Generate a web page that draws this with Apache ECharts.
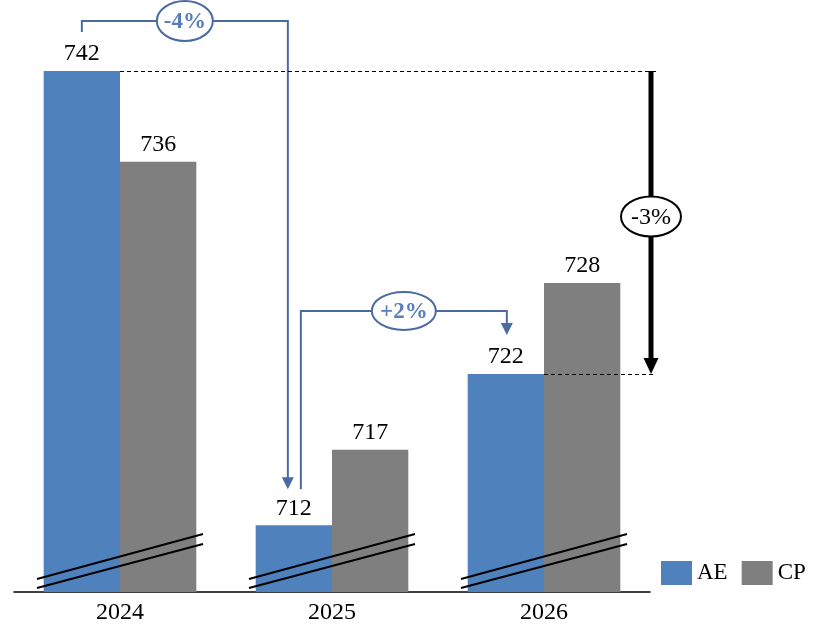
<!DOCTYPE html>
<html><head><meta charset="utf-8">
<script src="https://cdn.jsdelivr.net/npm/echarts@6/dist/echarts.min.js"></script>
<style>html,body{margin:0;padding:0;background:#fff}#c{width:834px;height:641px}</style>
</head><body><div id="c"></div>
<script>
const categories = ['2024', '2025', '2026'];
const aeValues = [742, 712, 722];
const cpValues = [736, 717, 728];
const changeLabels = ['-4%', '+2%', '-3%'];
const yMin = 707.6, yMax = 742;

const FONT = 'Liberation Serif';
const BLUE = '#4f81bd', GRAY = '#7f7f7f', LINE = '#4a6aa2', LBL = '#5b7dbb';

const chart = echarts.init(document.getElementById('c'));
const barLabel = {show: true, position: 'top', distance: 5, fontFamily: FONT, fontSize: 24, color: '#000'};
chart.setOption({
  animation: false,
  grid: {left: 14, width: 636, top: 71, bottom: 49},
  legend: {data: ['AE', 'CP'], left: 656, top: 556, itemWidth: 31, itemHeight: 24, itemGap: 14, icon: 'rect',
    textStyle: {fontFamily: FONT, fontSize: 23, color: '#000'}},
  xAxis: {type: 'category', data: categories,
    axisLine: {lineStyle: {color: '#000', width: 1.5}}, axisTick: {show: false},
    axisLabel: {fontFamily: FONT, fontSize: 24, color: '#000', margin: 9}},
  yAxis: {type: 'value', min: yMin, max: yMax, show: false, splitLine: {show: false}},
  series: [
    {name: 'AE', type: 'bar', data: aeValues, barWidth: '36%', barGap: '0%', itemStyle: {color: BLUE}, label: barLabel},
    {name: 'CP', type: 'bar', data: cpValues, barWidth: '36%', barGap: '0%', itemStyle: {color: GRAY}, label: barLabel}
  ]
});

const p = (i, v) => chart.convertToPixel({seriesIndex: 0}, [i, v]);
const band = p(1, yMin)[0] - p(0, yMin)[0];
const bw = band * 0.36;
const aeX = i => p(i, yMin)[0] - bw / 2;
const base = p(0, yMin)[1];
const yTop = v => p(0, v)[1];
const gridRight = p(2, yMin)[0] + band / 2;

const g = [];
const Z = 100;
function poly(points, stroke, w, dash) {
  g.push({type: 'polyline', z: Z, shape: {points}, style: {stroke, lineWidth: w, fill: null, lineDash: dash || null}});
}
function tri(x, yTip, w, h, fill) {
  g.push({type: 'polygon', z: Z, shape: {points: [[x - w / 2, yTip - h], [x + w / 2, yTip - h], [x, yTip]]}, style: {fill}});
}
function bubble(cx, cy, rx, ry, stroke, text, color, weight, size) {
  g.push({type: 'ellipse', z: Z + 1, shape: {cx, cy, rx, ry}, style: {fill: '#fff', stroke, lineWidth: 2}});
  g.push({type: 'text', z: Z + 2, style: {x: cx, y: cy + 1, text, align: 'center', verticalAlign: 'middle',
    fill: color, font: weight + ' ' + size + 'px "' + FONT + '"'}});
}

// bracket 1: AE 2024 -> AE 2025
const x1 = aeX(0), y742 = yTop(aeValues[0]);
const yH1 = y742 - 50;
const x2 = aeX(1) - 6, yTip1 = yTop(aeValues[1]) - 36;
poly([[x1, y742 - 39], [x1, yH1], [x2, yH1], [x2, yTip1 - 11]], LINE, 2);
tri(x2, yTip1, 12, 12, LINE);
bubble((x1 + x2) / 2, yH1, 28, 20, LINE, changeLabels[0], LBL, 'bold', 23);

// bracket 2: AE 2025 -> AE 2026
const x3 = aeX(1) + 7, y722 = yTop(aeValues[2]);
const yH2 = y722 - 63;
const x4 = aeX(2) + 1, yTip2 = y722 - 39;
poly([[x3, yTip1], [x3, yH2], [x4, yH2], [x4, yTip2 - 11]], LINE, 2);
tri(x4, yTip2, 12, 12, LINE);
bubble((x3 + x4) / 2, yH2, 32, 19, LINE, changeLabels[1], LBL, 'bold', 23);

// dashed reference lines
const snap = y => Math.round(y) + 0.5;
poly([[aeX(0) + bw / 2, snap(y742)], [gridRight + 6, snap(y742)]], '#000', 1, [4, 3]);
poly([[aeX(2) + bw / 2, snap(y722)], [gridRight + 6, snap(y722)]], '#000', 1, [4, 3]);

// black arrow 2024 AE -> 2026 AE
const xa = gridRight + 1;
poly([[xa, y742], [xa, y722 - 14]], '#000', 5);
tri(xa, y722, 15, 16, '#000');
bubble(xa, (y742 + y722) / 2 - 6, 30, 20, '#000', changeLabels[2], '#000', 'normal', 24);

// axis break marks
for (let i = 0; i < categories.length; i++) {
  const c = p(i, yMin)[0];
  poly([[c - 83, base - 13], [c + 83, base - 58]], '#000', 2);
  poly([[c - 83, base - 4], [c + 83, base - 48]], '#000', 2);
}

chart.setOption({graphic: g});
</script></body></html>
